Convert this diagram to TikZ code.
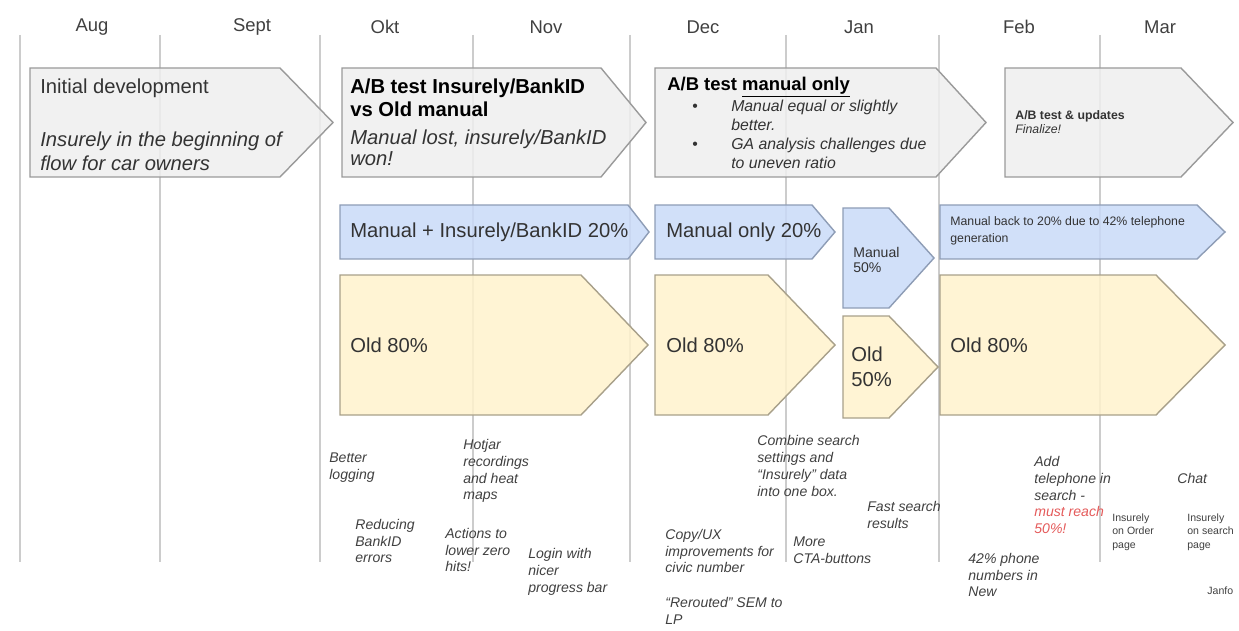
\documentclass[tikz,border=0pt]{standalone}
\usepackage{fontspec}
\setmainfont{Liberation Sans}

\definecolor{boxgray}{HTML}{EFEFEF}
\definecolor{boxblue}{HTML}{C9DAF8}
\definecolor{boxyellow}{HTML}{FFF2CC}
\definecolor{edgegray}{HTML}{9A9A9A}
\definecolor{edgeblue}{HTML}{8E9DB6}
\definecolor{edgeyellow}{HTML}{A8A08A}
\definecolor{notered}{HTML}{E45A5A}

\begin{document}
\begin{tikzpicture}[x=0.02cm, y=-0.02cm,
  month/.style={font=\fontsize{10.5}{12}\selectfont, text=black!75},
  sep/.style={black!20, line width=0.6pt},
  grayarrow/.style={fill=boxgray, draw=edgegray, line width=0.8pt, fill opacity=0.85},
  bluearrow/.style={fill=boxblue, draw=edgeblue, line width=0.8pt, fill opacity=0.85},
  yellowarrow/.style={fill=boxyellow, draw=edgeyellow, line width=0.8pt, fill opacity=0.85},
  txt/.style={inner sep=0pt, anchor=west, align=left, text=black!80,
    font=\fontsize{11.5}{13}\selectfont},
  note/.style={inner sep=0pt, anchor=west, align=left, text=black!75,
    font=\fontsize{8}{9.6}\selectfont\itshape},
  tiny/.style={note, font=\fontsize{6}{7.6}\selectfont}
]
\useasboundingbox (0,0) rectangle (1239,631);

%--- Month grid ---
\foreach \x in {20,160,320,473,630,786,939,1100}
  \draw[sep] (\x,35) -- (\x,562);
\foreach \m/\x in {Aug/92, Sept/252, Okt/385, Nov/546, Dec/703, Jan/859, Feb/1019, Mar/1160}
  \node[month] (m\m) at (\x,27) {\m};

%--- Phases (gray) ---
\filldraw[grayarrow] (30,68) -- (280,68) -- (333,122.5) -- (280,177) -- (30,177) -- cycle;
\filldraw[grayarrow] (342,68) -- (601,68) -- (646,122.5) -- (601,177) -- (342,177) -- cycle;
\filldraw[grayarrow] (655,68) -- (936,68) -- (986,122.5) -- (936,177) -- (655,177) -- cycle;
\filldraw[grayarrow] (1005,68) -- (1181,68) -- (1233,122.5) -- (1181,177) -- (1005,177) -- cycle;

\node[txt] (initdev) at (40,88) {Initial development};
\node[txt, font=\fontsize{11.5}{13.6}\selectfont\itshape] (initnote) at (40,151)
  {Insurely in the beginning of\\flow for car owners};

\node[txt, font=\fontsize{11.5}{13}\selectfont\bfseries, text=black] (abfirst) at (350,98)
  {A/B test Insurely/BankID\\vs Old manual};
\node[txt, font=\fontsize{11.5}{12}\selectfont\itshape] (abfirstnote) at (350,148)
  {Manual lost, insurely/BankID\\won!};

\node[txt, font=\fontsize{10.5}{12}\selectfont\bfseries, text=black] (abmanual) at (667,87)
  {A/B test \underline{manual only}};
\node[txt, font=\fontsize{9}{10.8}\selectfont] (abmanualnote) at (692,136)
  {\begin{tabular}{@{}l@{\hspace{19pt}}l@{}}
    \textbullet & \textit{Manual equal or slightly}\\
                & \textit{better.}\\
    \textbullet & \textit{GA analysis challenges due}\\
                & \textit{to uneven ratio}
  \end{tabular}};

\node[txt, font=\fontsize{7}{7.6}\selectfont] (abupdates) at (1015,122)
  {\textbf{A/B test \& updates}\\\textit{Finalize!}};

%--- Traffic split (blue) ---
\filldraw[bluearrow] (340,205) -- (628,205) -- (649,232) -- (628,259) -- (340,259) -- cycle;
\filldraw[bluearrow] (655,205) -- (812,205) -- (835,232) -- (812,259) -- (655,259) -- cycle;
\filldraw[bluearrow] (843,208) -- (889,208) -- (934,258) -- (889,308) -- (843,308) -- cycle;
\filldraw[bluearrow] (940,205) -- (1197,205) -- (1225,232) -- (1197,259) -- (940,259) -- cycle;

\node[txt] (split1) at (350,232) {Manual + Insurely/BankID 20\%};
\node[txt] (split2) at (666,232) {Manual only 20\%};
\node[txt, font=\fontsize{8}{9}\selectfont] (split3) at (853,260) {Manual\\50\%};
\node[txt, font=\fontsize{7}{9.6}\selectfont] (split4) at (950,231)
  {Manual back to 20\% due to 42\% telephone\\generation};

%--- Traffic split (yellow) ---
\filldraw[yellowarrow] (340,275) -- (581,275) -- (648,345) -- (581,415) -- (340,415) -- cycle;
\filldraw[yellowarrow] (655,275) -- (768,275) -- (835,345) -- (768,415) -- (655,415) -- cycle;
\filldraw[yellowarrow] (843,316) -- (889,316) -- (938,367) -- (889,418) -- (843,418) -- cycle;
\filldraw[yellowarrow] (940,275) -- (1156,275) -- (1225,345) -- (1156,415) -- (940,415) -- cycle;

\node[txt] (old1) at (350,345) {Old 80\%};
\node[txt] (old2) at (666,345) {Old 80\%};
\node[txt, font=\fontsize{11.5}{14}\selectfont] (old3) at (851,367) {Old\\50\%};
\node[txt] (old4) at (950,345) {Old 80\%};

%--- Updates along the way ---
\node[note] (logging) at (329,468) {Better\\logging};
\node[note] (bankid) at (355,541) {Reducing\\BankID\\errors};
\node[note] (hotjar) at (463,471) {Hotjar\\recordings\\and heat\\maps};
\node[note] (zerohits) at (445,550) {Actions to\\lower zero\\hits!};
\node[note] (login) at (528,572) {Login with\\nicer\\progress bar};
\node[note] (combine) at (757,466)
  {Combine search\\settings and\\“Insurely” data\\into one box.};
\node[note] (fastsearch) at (867,515) {Fast search\\results};
\node[note] (copyux) at (665,551) {Copy/UX\\improvements for\\civic number};
\node[note] (rerouted) at (665,611) {“Rerouted” SEM to\\LP};
\node[note] (morecta) at (793,550) {More\\CTA-buttons};
\node[note] (phones) at (968,575) {42\% phone\\numbers in\\New};
\node[note] (addtel) at (1034,495)
  {Add\\telephone in\\search -\\\textcolor{notered}{must reach}\\\textcolor{notered}{50\%!}};
\node[tiny] (insorder) at (1112,532) {Insurely\\on Order\\page};
\node[note] (chat) at (1177,478) {Chat};
\node[tiny] (inssearch) at (1187,532) {Insurely\\on search\\page};
\node[tiny] (janfo) at (1207,591) {Janfo};

\end{tikzpicture}
\end{document}
